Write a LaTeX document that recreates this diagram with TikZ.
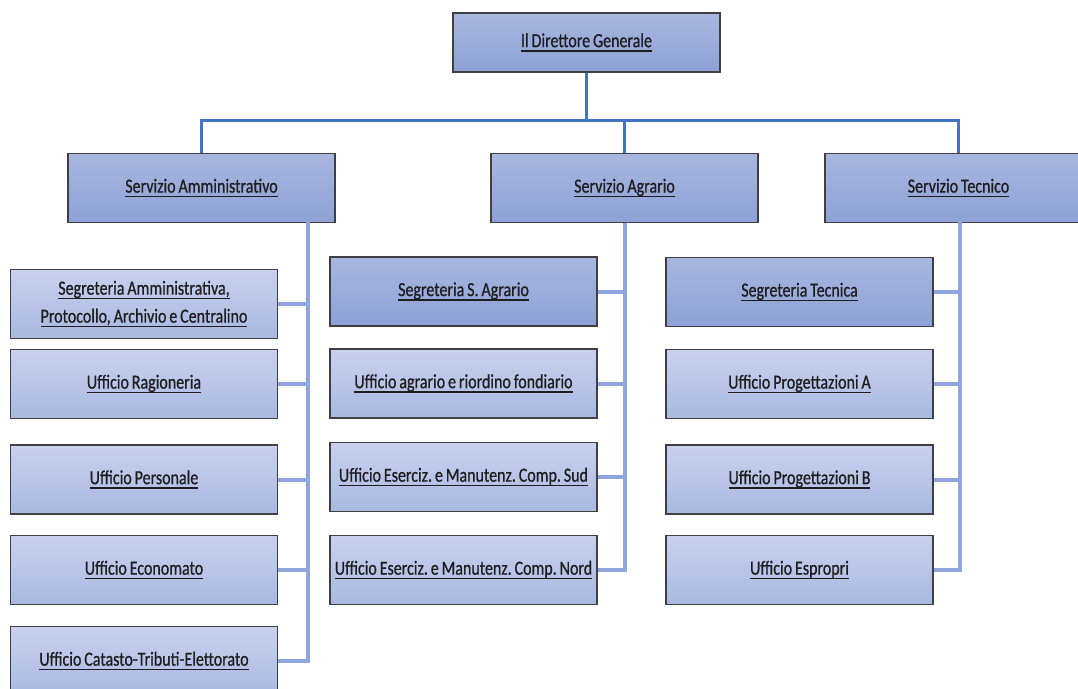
\documentclass[tikz,border=0pt]{standalone}
\usepackage{fontspec}
\setmainfont[FakeStretch=0.8,FakeBold=0.7,WordSpace=0.8]{Carlito}
\frenchspacing
\newcommand\ulx[1]{\setbox0\hbox{#1}\rlap{\rule[-4.6pt]{\wd0}{1.5pt}}\box0}
\definecolor{darktop}{HTML}{A9B7E0}
\definecolor{darkbot}{HTML}{8DA1D6}
\definecolor{lighttop}{HTML}{C9D1EE}
\definecolor{lightbot}{HTML}{A9B8E2}
\definecolor{edge}{HTML}{404040}
\definecolor{mainline}{HTML}{4472C4}
\definecolor{subline}{HTML}{8FA6DD}
\definecolor{txt}{HTML}{1E1E1E}
\tikzset{
  box/.style={draw=edge, line width=1.1pt, minimum width=267pt, minimum height=69pt,
    inner sep=0pt, align=center, text=txt, font=\fontsize{20}{28}\selectfont},
  darkbox/.style={box, top color=darktop, bottom color=darkbot},
  lightbox/.style={box, top color=lighttop, bottom color=lightbot},
  mainconn/.style={draw=mainline, line width=3pt},
  subconn/.style={draw=subline, line width=4pt},
}
\begin{document}
\begin{tikzpicture}[x=1pt, y=-1pt]
\useasboundingbox (0,0) rectangle (1078,688);
\clip (0,0) rectangle (1078,688);
% top level
\node[darkbox, minimum height=59pt] (dir) at (586.5,42.5) {\ulx{Il Direttore Generale}};
\node[darkbox] (sa) at (201.5,188) {\ulx{Servizio Amministrativo}};
\node[darkbox] (sg) at (624.5,188) {\ulx{Servizio Agrario}};
\node[darkbox] (st) at (958.5,188) {\ulx{Servizio Tecnico}};
% amministrativo
\node[lightbox] (a1) at (144,304) {\ulx{Segreteria Amministrativa,}\\\ulx{Protocollo, Archivio e Centralino}};
\node[lightbox] (a2) at (144,384) {\ulx{Ufficio Ragioneria}};
\node[lightbox] (a3) at (144,479.5) {\ulx{Ufficio Personale}};
\node[lightbox] (a4) at (144,570) {\ulx{Ufficio Economato}};
\node[lightbox] (a5) at (144,661) {\ulx{Ufficio Catasto-Tributi-Elettorato}};
% agrario
\node[darkbox] (g1) at (463.5,291.5) {\ulx{Segreteria S. Agrario}};
\node[lightbox] (g2) at (463.5,383.5) {\ulx{Ufficio agrario e riordino fondiario}};
\node[lightbox] (g3) at (463.5,477) {\ulx{Ufficio Eserciz. e Manutenz. Comp. Sud}};
\node[lightbox] (g4) at (463.5,570) {\ulx{Ufficio Eserciz. e Manutenz. Comp. Nord}};
% tecnico
\node[darkbox] (t1) at (799.5,292) {\ulx{Segreteria Tecnica}};
\node[lightbox] (t2) at (799.5,384) {\ulx{Ufficio Progettazioni A}};
\node[lightbox] (t3) at (799.5,479.5) {\ulx{Ufficio Progettazioni B}};
\node[lightbox] (t4) at (799.5,570) {\ulx{Ufficio Espropri}};
% main connectors
\coordinate (hub) at (586.5,120);
\draw[mainconn] (dir.south) -- (hub);
\draw[mainconn] (sa.north) |- (hub);
\draw[mainconn] (st.north) |- (hub);
\draw[mainconn] (sg.north) -- (sg.north |- hub);
% sub connectors
\coordinate (va) at (308,222);
\draw[subconn] (va) |- (a5.east);
\foreach \n in {a1,a2,a3,a4} \draw[subconn] (\n.east) -- (\n.east -| va);
\draw[subconn] (sg.south) |- (g4.east);
\foreach \n in {g1,g2,g3} \draw[subconn] (\n.east) -- (\n.east -| sg.south);
\coordinate (vt) at (960,222);
\draw[subconn] (vt) |- (t4.east);
\foreach \n in {t1,t2,t3} \draw[subconn] (\n.east) -- (\n.east -| vt);
\end{tikzpicture}
\end{document}
